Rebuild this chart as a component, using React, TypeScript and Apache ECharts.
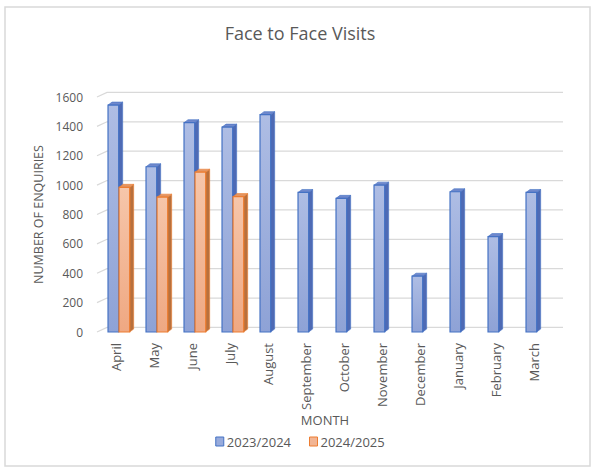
import React, { useEffect, useRef } from "react";
import * as echarts from "echarts";

const months = ["April", "May", "June", "July", "August", "September", "October", "November", "December", "January", "February", "March"];
const series2324 = [1545, 1125, 1425, 1395, 1480, 950, 910, 1000, 380, 955, 650, 950];
const series2425: (number | null)[] = [985, 918, 1088, 922, null, null, null, null, null, null, null, null];
const yTicks = [0, 200, 400, 600, 800, 1000, 1200, 1400, 1600];
const seriesNames = ["2023/2024", "2024/2025"];

const FONT = "'Open Sans', 'Noto Sans', sans-serif";
const TXT = "#595959";

const palettes = [
  { top: "#aebde4", bottom: "#8ea2d6", border: "#4472c4", side: "#4e6ab4", cap: "#6f88cc" },
  { top: "#f6c6aa", bottom: "#efa882", border: "#ed7d31", side: "#b8703d", cap: "#e39563" },
];

function makeBarRenderer(idx: number) {
  const p = palettes[idx];
  return (params: any, api: any) => {
    const v = api.value(1);
    if (v == null || isNaN(v)) return null;
    const cat = api.value(0);
    const c = api.coord([cat, v]);
    const base = api.coord([cat, 0]);
    const band = api.size([1, 0])[0];
    const w = band * 0.28;
    const x0 = c[0] + (idx === 0 ? -0.21 : 0.08) * band;
    const d = 4;
    const dy = 3;
    const yTop = c[1];
    const yBot = base[1];
    return {
      type: "group",
      children: [
        {
          type: "polygon",
          shape: { points: [[x0 + w, yTop], [x0 + w + d, yTop - dy], [x0 + w + d, yBot - dy], [x0 + w, yBot]] },
          style: { fill: p.side, stroke: p.border, lineWidth: 0.6 },
        },
        {
          type: "polygon",
          shape: { points: [[x0, yTop], [x0 + d, yTop - dy], [x0 + w + d, yTop - dy], [x0 + w, yTop]] },
          style: { fill: p.cap, stroke: p.border, lineWidth: 0.6 },
        },
        {
          type: "rect",
          shape: { x: x0, y: yTop, width: w, height: yBot - yTop },
          style: {
            fill: new echarts.graphic.LinearGradient(0, 0, 0, 1, [
              { offset: 0, color: p.top },
              { offset: 1, color: p.bottom },
            ]),
            stroke: p.border,
            lineWidth: 1.2,
          },
        },
      ],
    };
  };
}

const gridRenderer = (params: any, api: any) => {
  const v = api.value(1);
  const cs = params.coordSys;
  const y = api.coord([0, v])[1];
  const dx = 10;
  const dy = 4.6;
  return {
    type: "polyline",
    shape: {
      points: [
        [cs.x, y],
        [cs.x + dx, y - dy],
        [cs.x + cs.width + dx, y - dy],
      ],
    },
    style: { stroke: "#d9d9d9", lineWidth: 1.2, fill: null },
    silent: true,
  };
};

export default function App() {
  const ref = useRef<HTMLDivElement>(null);
  useEffect(() => {
    if (!ref.current) return;
    const chart = echarts.init(ref.current, undefined, { renderer: "svg" });
    chart.setOption({
      animation: false,
      backgroundColor: "#ffffff",
      textStyle: { fontFamily: FONT },
      title: {
        text: "Face to Face Visits",
        left: "center",
        top: 19,
        textStyle: { fontFamily: FONT, fontSize: 18, fontWeight: "normal", color: TXT },
      },
      legend: {
        data: [
          { name: seriesNames[0], itemStyle: { color: "#98abdc", borderColor: palettes[0].border, borderWidth: 1 } },
          { name: seriesNames[1], itemStyle: { color: "#f2b594", borderColor: palettes[1].border, borderWidth: 1 } },
        ],
        bottom: 23,
        left: "center",
        icon: "rect",
        itemWidth: 8,
        itemHeight: 9,
        itemGap: 18,
        textStyle: { fontFamily: FONT, fontSize: 13, color: TXT, padding: [0, 0, 0, -2] },
      },
      grid: { left: 97, right: 47, top: 97, bottom: 144 },
      xAxis: {
        type: "category",
        data: months,
        name: "MONTH",
        nameLocation: "middle",
        nameGap: 76,
        nameTextStyle: { fontFamily: FONT, fontSize: 13, color: TXT },
        axisLine: { show: false },
        axisTick: { show: false },
        axisLabel: { rotate: 90, margin: 11, fontFamily: FONT, fontSize: 13, color: TXT, interval: 0 },
      },
      yAxis: {
        type: "value",
        min: 0,
        max: 1600,
        interval: 200,
        name: "NUMBER OF ENQUIRIES",
        nameLocation: "middle",
        nameGap: 52,
        nameTextStyle: { fontFamily: FONT, fontSize: 12.5, color: TXT },
        axisLine: { show: false },
        axisTick: { show: false },
        splitLine: { show: false },
        axisLabel: { margin: 14, fontFamily: FONT, fontSize: 12, color: TXT, formatter: (v: number) => String(v) },
      },
      graphic: [
        {
          type: "rect",
          shape: { x: 5, y: 7, width: 585, height: 459 },
          style: { fill: null, stroke: "#d9d9d9", lineWidth: 1.5 },
          silent: true,
          z: -10,
        },
      ],
      series: [
        {
          type: "custom",
          name: "gridlines",
          renderItem: gridRenderer,
          data: yTicks.map((t) => [0, t]),
          encode: { x: 0, y: 1 },
          clip: false,
          silent: true,
          z: 1,
        },
        {
          type: "custom",
          name: seriesNames[0],
          renderItem: makeBarRenderer(0),
          data: series2324.map((v, i) => [i, v]),
          encode: { x: 0, y: 1 },
          itemStyle: { color: "#98abdc", borderColor: palettes[0].border },
          clip: false,
          z: 3,
        },
        {
          type: "custom",
          name: seriesNames[1],
          renderItem: makeBarRenderer(1),
          data: series2425.map((v, i) => [i, v]),
          encode: { x: 0, y: 1 },
          itemStyle: { color: "#f2b594", borderColor: palettes[1].border },
          clip: false,
          z: 3,
        },
      ],
    });
    return () => chart.dispose();
  }, []);
  return (
    <div
      ref={ref}
      style={{ position: "absolute", left: 0, top: 0, width: 600, height: 476 }}
    />
  );
}
